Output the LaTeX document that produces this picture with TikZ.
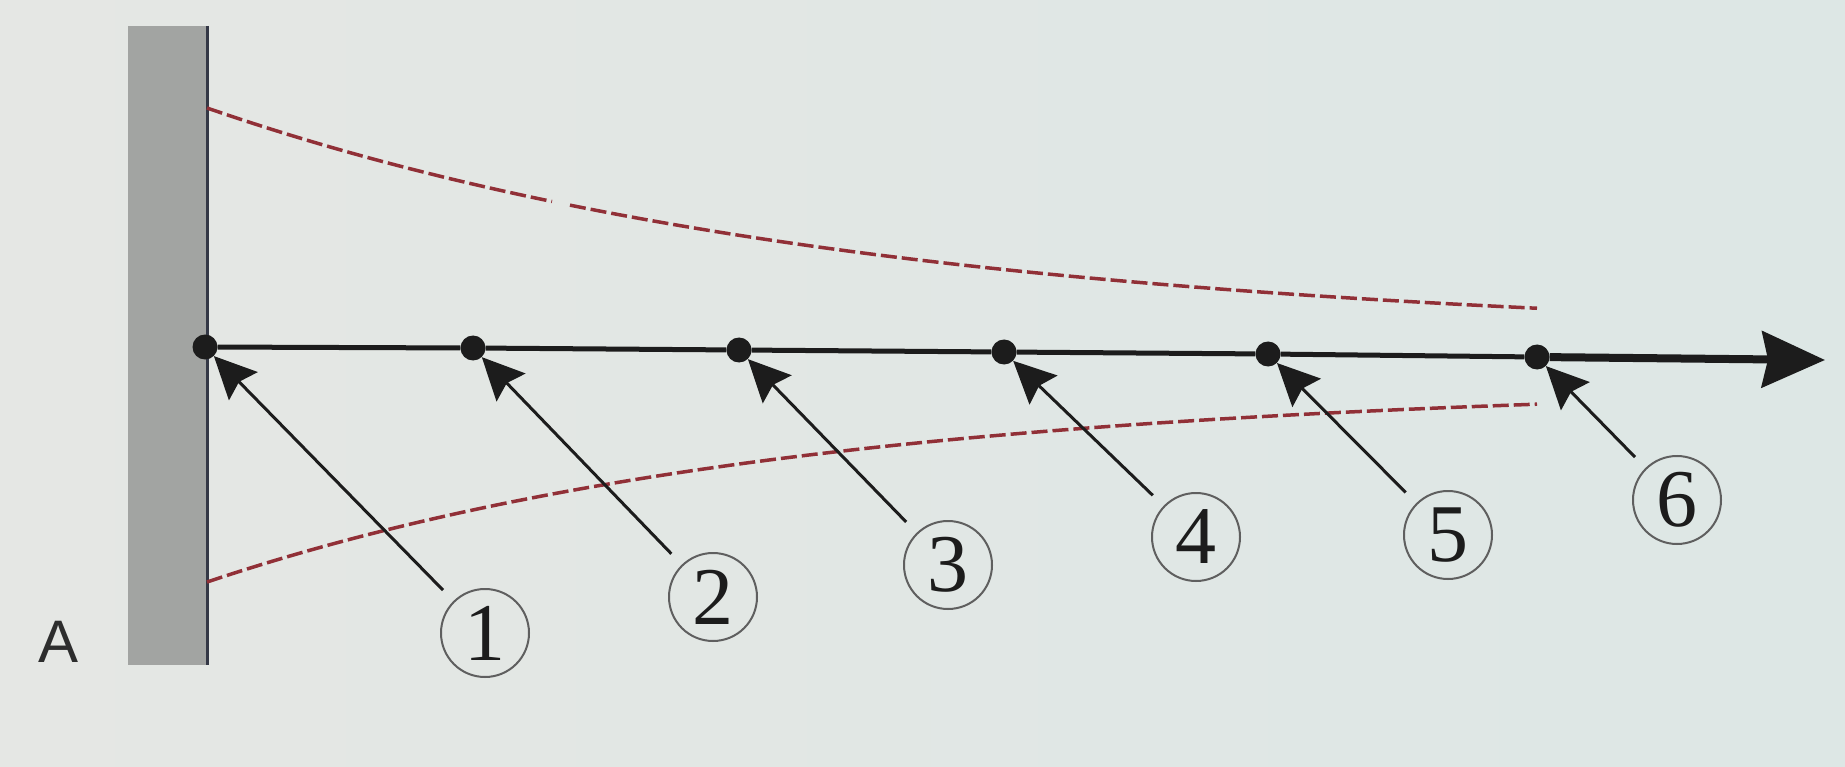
\documentclass[tikz,border=0pt]{standalone}
\usepackage{fontspec}
\setmainfont{Liberation Serif}
\newfontfamily\labelsans{Liberation Sans}
\usetikzlibrary{arrows.meta}
\definecolor{bgleft}{RGB}{229,231,228}
\definecolor{bgright}{RGB}{221,231,229}
\definecolor{wallgray}{RGB}{162,164,162}
\definecolor{walledge}{RGB}{52,56,70}
\definecolor{envred}{RGB}{145,48,55}
\definecolor{inkdark}{RGB}{28,28,28}
\definecolor{ringgray}{RGB}{95,95,95}
\tikzset{
  dotnode/.style={circle, fill=inkdark, minimum size=25, inner sep=0pt},
  numnode/.style={circle, draw=ringgray, line width=2pt, minimum size=88, inner sep=0pt,
                  font=\fontsize{82}{86}\selectfont, text=inkdark},
  mainline/.style={inkdark, line width=5pt},
  callout/.style={inkdark, line width=3pt, shorten <=15pt,
                  -{Stealth[length=42pt, width=40pt, inset=6pt]}},
  envelope/.style={envred, line width=3.5pt, dash pattern=on 16pt off 5pt}
}
\begin{document}
\begin{tikzpicture}[x=1pt, y=-1pt]
\useasboundingbox (0,0) rectangle (1845,767);
\shade[left color=bgleft, right color=bgright] (0,0) rectangle (1845,767);
% wall
\fill[wallgray] (128,26) rectangle (207,665);
\coordinate (wt) at (207,26);
\coordinate (wb) at (207,665);
\draw[walledge, line width=3pt] (wt) -- (wb);
\node[font=\labelsans\fontsize{60}{64}\selectfont, text={rgb,255:red,45;green,45;blue,45}] (A) at (59,642) {A};
% envelope curves
\draw[envelope] plot[domain=207:552, samples=40] (\x, {340-232*exp(-0.0015*(\x-207))});
\draw[envelope] plot[domain=570:1537, samples=80] (\x, {340-232*exp(-0.0015*(\x-207))});
\draw[envelope] plot[domain=207:1537, samples=100] (\x, {383.3+198.7*exp(-0.0017*(\x-207))});
% points
\node[dotnode] (d1) at (205,347) {};
\node[dotnode] (d2) at (473,348) {};
\node[dotnode] (d3) at (739,350) {};
\node[dotnode] (d4) at (1004,352) {};
\node[dotnode] (d5) at (1268,354) {};
\node[dotnode] (d6) at (1537,357) {};
\coordinate (tip) at (1825,360);
\draw[mainline] (d1) -- (d2) -- (d3) -- (d4) -- (d5) -- (d6);
\draw[inkdark, line width=8pt, -{Stealth[length=63pt, width=56pt, inset=6pt]}] (d6) -- (tip);
% numbered labels
\node[numnode] (c1) at (485,633) {1};
\node[numnode] (c2) at (713,597) {2};
\node[numnode] (c3) at (948,565) {3};
\node[numnode] (c4) at (1196,537) {4};
\node[numnode] (c5) at (1448,535) {5};
\node[numnode] (c6) at (1677,500) {6};
\foreach \i in {1,...,6} {
  \draw[callout] (c\i) -- (d\i);
}
\end{tikzpicture}
\end{document}
